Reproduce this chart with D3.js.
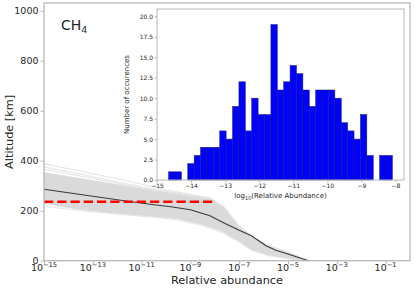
<!DOCTYPE html>
<html><head><meta charset="utf-8">
<script src="https://cdn.jsdelivr.net/npm/d3@7"></script>
<style>body{margin:0;background:#fff} svg{display:block} text{font-family:"DejaVu Sans",sans-serif;fill:#262626}</style>
</head><body><svg id="c" width="415" height="291"></svg>
<script>
// ---------- data ----------
// median profile: [log10(relative abundance), altitude km]
const medianProfile = [[-15,286],[-13,258],[-11.5,237],[-10.5,224],[-9.8,216],[-9.0,204],[-8.2,180],[-7.6,150],[-7.0,122],[-6.5,100],[-6.2,80],[-5.9,60],[-5.5,42],[-5.0,27],[-4.6,14],[-4.15,0]];
// ensemble envelope (upper / lower)
const envelopeUpper = [[-15,352],[-14,336],[-13,320],[-12,304],[-11,288],[-10,272],[-9,258],[-8.2,248],[-7.6,212],[-7.0,135],[-6.4,90],[-5.7,56],[-4.9,30],[-4.2,0]];
const envelopeLower = [[-15,230],[-13.5,205],[-12,190],[-10.5,178],[-9.5,168],[-8.5,145],[-7.7,118],[-7.1,85],[-6.5,45],[-5.8,22],[-5.0,9],[-4.4,0]];
// a few outlying ensemble members
const outlierA = [[-15,388],[-14,368],[-13,348],[-12,328],[-11,306],[-10,284],[-9,265],[-8.2,252],[-7.6,214],[-7.0,140],[-6.4,92],[-5.7,57],[-4.9,31],[-4.2,0]];
const outlierB = [[-15,375],[-14,356],[-13,336],[-12,316],[-11,296],[-10,278],[-9,262],[-8.2,250],[-7.6,212],[-7.0,136],[-6.4,90],[-5.7,56],[-4.9,30],[-4.2,0]];
const outlierC = [[-15,366],[-14,348],[-13,329],[-12,310],[-11,291],[-10,274],[-9,259],[-8.2,248],[-7.6,210],[-7.0,134],[-6.4,89],[-5.7,55],[-4.9,30],[-4.2,0]];
const outlierD = [[-15,218],[-13.5,200],[-12,186],[-10.5,174],[-9.5,163],[-8.5,140],[-7.7,112],[-7.1,80],[-6.5,42],[-5.8,20],[-5.0,8],[-4.4,0]];
// dashed reference altitude
const refAltitude = 236;
const refRangeLog = [-15, -8.1];
// main axis ticks
const altTicks = [0,200,400,600,800,1000];
const abundTickExps = [-15,-13,-11,-9,-7,-5,-3,-1];
// histogram
const histCounts = [1,1,0,2,3,4,4,4,6,5,9,12,6,10,8,8,19,11,12,14,13,11,9,11,11,11,10,7,6,5,8,3,0,3,3];
const histRange = [-14.66, -8.09];
const histYTicks = [0,2.5,5,7.5,10,12.5,15,17.5,20];
const histXTicks = [-15,-14,-13,-12,-11,-10,-9,-8];

// ---------- layout ----------
const svg = d3.select("#c");
const M = {l:44, r:410, t:3, b:260.7};
const x = d3.scaleLog().domain([1e-15, 1]).range([M.l, M.r]);
const y = d3.scaleLinear().domain([0, 1031]).range([M.b, M.t]);
const P = p => [x(Math.pow(10, p[0])), y(p[1])];
const line = d3.line();
const spine = "#b8b8b8";

const main = svg.append("g");
// band
const band = envelopeUpper.map(P).concat(envelopeLower.slice().reverse().map(P));
main.append("path").attr("d", line(band) + "Z").attr("fill", "#dadada").attr("stroke", "#dadada").attr("stroke-width", 1);
[outlierA, outlierB, outlierC].forEach(o =>
  main.append("path").attr("d", line(o.map(P))).attr("fill", "none").attr("stroke", "#e3e3e3").attr("stroke-width", 1));
main.append("path").attr("d", line(outlierD.map(P))).attr("fill", "none").attr("stroke", "#e5e5e5").attr("stroke-width", 1);
// median
main.append("path").attr("d", line(medianProfile.map(P))).attr("fill", "none").attr("stroke", "#3a3a3a").attr("stroke-width", 1.1);
// red dashed
main.append("line")
  .attr("x1", x(Math.pow(10, refRangeLog[0]))).attr("x2", x(Math.pow(10, refRangeLog[1])))
  .attr("y1", y(refAltitude)).attr("y2", y(refAltitude))
  .attr("stroke", "#ff0000").attr("stroke-width", 2.5).attr("stroke-dasharray", "9.25,4");

// spines
main.append("rect").attr("x", M.l).attr("y", M.t).attr("width", M.r - M.l).attr("height", M.b - M.t)
  .attr("fill", "none").attr("stroke", spine).attr("stroke-width", 1.3);

// y axis
const ya = main.append("g").attr("transform", `translate(${M.l},0)`)
  .call(d3.axisLeft(y).tickValues(altTicks).tickSize(3.5).tickPadding(2).tickFormat(d3.format("d")));
ya.select(".domain").remove();
ya.selectAll("line").attr("stroke", spine);
ya.selectAll("text").style("font-size", "9.5px").attr("fill", "#262626");

// x axis with superscripts
const xa = main.append("g").attr("transform", `translate(0,${M.b})`)
  .call(d3.axisBottom(x).tickValues(abundTickExps.map(e => Math.pow(10, e))).tickSize(3.5).tickFormat(""));
xa.select(".domain").remove();
xa.selectAll("line").attr("stroke", spine);
abundTickExps.forEach(e => {
  const t = main.append("text").attr("x", x(Math.pow(10, e))).attr("y", M.b + 10.5)
    .attr("text-anchor", "middle").style("font-size", "9.5px");
  t.append("tspan").text("10");
  t.append("tspan").attr("dy", -4).style("font-size", "6.7px").text("\u2212" + Math.abs(e));
});

// labels
svg.append("text").attr("x", (M.l + M.r) / 2).attr("y", 284).attr("text-anchor", "middle")
  .style("font-size", "11.3px").text("Relative abundance");
svg.append("text").attr("transform", `translate(13,${(M.t + M.b) / 2}) rotate(-90)`).attr("text-anchor", "middle")
  .style("font-size", "11.3px").text("Altitude [km]");
const ch = svg.append("text").attr("x", 61).attr("y", 30).style("font-size", "14px");
ch.append("tspan").text("CH");
ch.append("tspan").attr("dy", 3).style("font-size", "9.5px").text("4");

// ---------- inset ----------
const I = {l:157, r:404, t:9, b:180};
const xi = d3.scaleLinear().domain([-15, -7.75]).range([I.l, I.r]);
const yi = d3.scaleLinear().domain([0, 20.9]).range([I.b, I.t]);
const ins = svg.append("g");
ins.append("rect").attr("x", I.l).attr("y", I.t).attr("width", I.r - I.l).attr("height", I.b - I.t).attr("fill", "#fff");
const bw = (histRange[1] - histRange[0]) / histCounts.length;
const bins = histCounts.map((c, i) => ({c, x0: histRange[0] + i * bw, x1: histRange[0] + (i + 1) * bw}));
ins.selectAll("rect.bar").data(bins.filter(b => b.c > 0)).join("rect").attr("class", "bar")
  .attr("x", b => xi(b.x0))
  .attr("width", b => xi(b.x1) - xi(b.x0))
  .attr("y", b => yi(b.c)).attr("height", b => yi(0) - yi(b.c))
  .attr("fill", "#0000ff").attr("stroke", "#1a1a66").attr("stroke-width", 0.5);
ins.append("rect").attr("x", I.l).attr("y", I.t).attr("width", I.r - I.l).attr("height", I.b - I.t)
  .attr("fill", "none").attr("stroke", spine).attr("stroke-width", 1);
const yia = ins.append("g").attr("transform", `translate(${I.l},0)`)
  .call(d3.axisLeft(yi).tickValues(histYTicks).tickSize(2.5).tickPadding(1.5).tickFormat(d3.format(".1f")));
yia.select(".domain").remove();
yia.selectAll("line").attr("stroke", spine);
yia.selectAll("text").style("font-size", "6px");
const xia = ins.append("g").attr("transform", `translate(0,${I.b})`)
  .call(d3.axisBottom(xi).tickValues(histXTicks).tickSize(2.5).tickPadding(1.5).tickFormat(d3.format("d")));
xia.select(".domain").remove();
xia.selectAll("line").attr("stroke", spine);
xia.selectAll("text").style("font-size", "6px");
const xl = ins.append("text").attr("x", (I.l + I.r) / 2).attr("y", 198).attr("text-anchor", "middle").style("font-size", "7px");
xl.append("tspan").text("log");
xl.append("tspan").attr("dy", 1.8).style("font-size", "5px").text("10");
xl.append("tspan").attr("dy", -1.8).text("(Relative Abundance)");
ins.append("text").attr("transform", `translate(129,${(I.t + I.b) / 2}) rotate(-90)`).attr("text-anchor", "middle")
  .style("font-size", "7px").text("Number of occurences");
</script></body></html>
